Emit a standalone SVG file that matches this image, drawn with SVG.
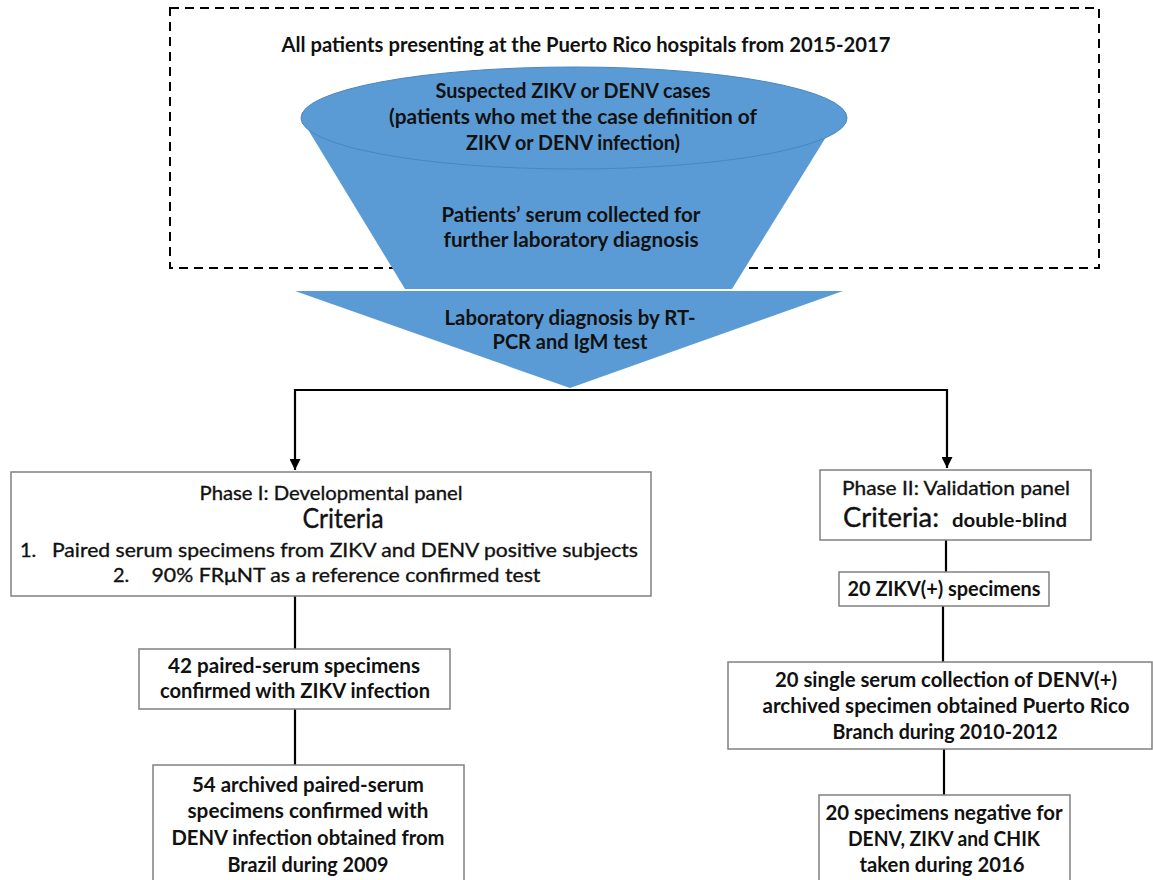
<svg xmlns="http://www.w3.org/2000/svg" width="1153" height="880" viewBox="0 0 1153 880">
<style>
.t{font-family:Lato,"Liberation Sans",sans-serif;fill:#111;text-anchor:middle}
.b{font-weight:bold;font-size:20px}
.r{font-weight:normal;font-size:20px;stroke:#111;stroke-width:0.35}
.box{fill:#fff;stroke:#808080;stroke-width:1.5}
.conn{fill:none;stroke:#000;stroke-width:2.2}
.blue{fill:#5b9bd5}
</style>
<defs>
<marker id="ah" viewBox="0 0 10 10" refX="10" refY="5" markerWidth="5" markerHeight="5" orient="auto" markerUnits="strokeWidth">
<path d="M0,0 L10,5 L0,10 z" fill="#000"/>
</marker>
</defs>
<rect width="1153" height="880" fill="#fff"/>

<g id="population">
<rect x="170" y="8" width="929" height="260" fill="none" stroke="#000" stroke-width="2" stroke-dasharray="9,6"/>
<text class="t b" x="586" y="52" textLength="609" lengthAdjust="spacingAndGlyphs">All patients presenting at the Puerto Rico hospitals from 2015-2017</text>
</g>

<g id="funnel">
<path class="blue" d="M301,118 L405,289 L732,289 L839,116 Z"/>
<ellipse class="blue" cx="574" cy="118" rx="273" ry="51" stroke="#4a86bf" stroke-width="1"/>
<text class="t b" x="573" y="98" textLength="275" lengthAdjust="spacingAndGlyphs">Suspected ZIKV or DENV cases</text>
<text class="t b" x="573" y="124" textLength="368" lengthAdjust="spacingAndGlyphs">(patients who met the case definition of</text>
<text class="t b" x="573" y="150" textLength="214" lengthAdjust="spacingAndGlyphs">ZIKV or DENV infection)</text>
<text class="t b" x="571" y="222" textLength="259" lengthAdjust="spacingAndGlyphs">Patients’ serum collected for</text>
<text class="t b" x="571" y="247" textLength="255" lengthAdjust="spacingAndGlyphs">further laboratory diagnosis</text>
</g>

<g id="lab-diagnosis">
<path class="blue" d="M295,291 L843,291 L570,388 Z"/>
<text class="t b" x="570" y="325" textLength="251" lengthAdjust="spacingAndGlyphs">Laboratory diagnosis by RT-</text>
<text class="t b" x="570" y="349" textLength="155" lengthAdjust="spacingAndGlyphs">PCR and IgM test</text>
</g>

<g id="connectors">
<polyline class="conn" points="295,390 947,390 947,468" marker-end="url(#ah)"/>
<line class="conn" x1="295" y1="389" x2="295" y2="470" marker-end="url(#ah)"/>
<line class="conn" x1="295" y1="596" x2="295" y2="649"/>
<line class="conn" x1="295" y1="709" x2="295" y2="765"/>
<line class="conn" x1="946" y1="540" x2="946" y2="572"/>
<line class="conn" x1="943" y1="606" x2="943" y2="662"/>
<line class="conn" x1="944" y1="749" x2="944" y2="795"/>
</g>

<g id="phase1">
<rect class="box" x="11" y="472" width="640" height="124"/>
<text class="t r" x="331" y="500" textLength="263" lengthAdjust="spacingAndGlyphs">Phase I: Developmental panel</text>
<text class="t r" x="343" y="528" font-size="27" style="font-size:27px" textLength="81" lengthAdjust="spacingAndGlyphs">Criteria</text>
<text class="t r" x="20" y="557" style="text-anchor:start">1.</text>
<text class="t r" x="345" y="557" textLength="586" lengthAdjust="spacingAndGlyphs">Paired serum specimens from ZIKV and DENV positive subjects</text>
<text class="t r" x="113" y="582" style="text-anchor:start">2.</text>
<text class="t r" x="346" y="582" textLength="389" lengthAdjust="spacingAndGlyphs">90% FRμNT as a reference confirmed test</text>
</g>

<g id="phase2">
<rect class="box" x="820" y="470" width="271" height="70"/>
<text class="t r" x="956" y="495" textLength="228" lengthAdjust="spacingAndGlyphs">Phase II: Validation panel</text>
<text class="t r" x="843" y="527" style="text-anchor:start;font-size:27px" textLength="96" lengthAdjust="spacingAndGlyphs">Criteria:</text>
<text class="t" x="952" y="527" font-size="18" font-weight="bold" style="text-anchor:start" textLength="115" lengthAdjust="spacingAndGlyphs">double-blind</text>
</g>

<g id="zikv-pos">
<rect class="box" x="839" y="572" width="210" height="34"/>
<text class="t b" x="944" y="596" textLength="193" lengthAdjust="spacingAndGlyphs">20 ZIKV(+) specimens</text>
</g>

<g id="denv-pos">
<rect class="box" x="728" y="662" width="424" height="87"/>
<text class="t b" x="946" y="687" textLength="342" lengthAdjust="spacingAndGlyphs">20 single serum collection of DENV(+)</text>
<text class="t b" x="946" y="713" textLength="367" lengthAdjust="spacingAndGlyphs">archived specimen obtained Puerto Rico</text>
<text class="t b" x="945" y="739" textLength="225" lengthAdjust="spacingAndGlyphs">Branch during 2010-2012</text>
</g>

<g id="negative">
<rect class="box" x="819" y="795" width="251" height="95"/>
<text class="t b" x="944" y="820" textLength="237" lengthAdjust="spacingAndGlyphs">20 specimens negative for</text>
<text class="t b" x="944" y="846" textLength="192" lengthAdjust="spacingAndGlyphs">DENV, ZIKV and CHIK</text>
<text class="t b" x="942" y="872" textLength="165" lengthAdjust="spacingAndGlyphs">taken during 2016</text>
</g>

<g id="zikv-paired">
<rect class="box" x="139" y="649" width="311" height="60"/>
<text class="t b" x="294" y="673" textLength="252" lengthAdjust="spacingAndGlyphs">42 paired-serum specimens</text>
<text class="t b" x="295" y="698" textLength="270" lengthAdjust="spacingAndGlyphs">confirmed with ZIKV infection</text>
</g>

<g id="denv-paired">
<rect class="box" x="153" y="765" width="311" height="125"/>
<text class="t b" x="308" y="792" textLength="232" lengthAdjust="spacingAndGlyphs">54 archived paired-serum</text>
<text class="t b" x="308" y="818" textLength="241" lengthAdjust="spacingAndGlyphs">specimens confirmed with</text>
<text class="t b" x="308" y="845" textLength="273" lengthAdjust="spacingAndGlyphs">DENV infection obtained from</text>
<text class="t b" x="308" y="872" textLength="161" lengthAdjust="spacingAndGlyphs">Brazil during 2009</text>
</g>
</svg>
